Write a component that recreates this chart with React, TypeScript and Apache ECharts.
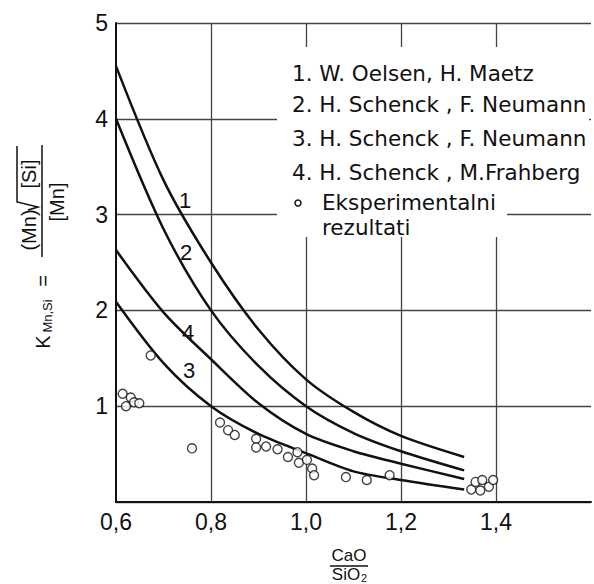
import React, { useEffect, useRef } from "react";
import * as echarts from "echarts";

// x positions (CaO/SiO2) at which the curves were read
const curveX = [0.6, 0.7, 0.8, 0.9, 1.0, 1.1, 1.2, 1.333];
// K_Mn,Si values
const curve1 = [4.55, 3.36, 2.5, 1.8, 1.28, 0.94, 0.69, 0.47]; // W. Oelsen, H. Maetz
const curve2 = [4.0, 2.85, 2.0, 1.42, 1.0, 0.72, 0.53, 0.33]; // H. Schenck, F. Neumann
const curve3 = [2.09, 1.45, 1.0, 0.71, 0.51, 0.32, 0.23, 0.13]; // H. Schenck, F. Neumann
const curve4 = [2.63, 1.98, 1.49, 1.03, 0.71, 0.53, 0.4, 0.24]; // H. Schenck, M. Frahberg

// experimental points [CaO/SiO2, K]
const expPoints: [number, number][] = [
  [0.614, 1.13], [0.621, 1.0], [0.631, 1.09], [0.638, 1.04], [0.649, 1.03],
  [0.673, 1.53], [0.76, 0.56], [0.819, 0.83], [0.836, 0.75], [0.85, 0.7],
  [0.895, 0.66], [0.895, 0.57], [0.916, 0.58], [0.94, 0.55], [0.962, 0.47],
  [0.982, 0.52], [0.985, 0.41], [1.002, 0.44], [1.013, 0.35], [1.017, 0.28],
  [1.084, 0.26], [1.128, 0.23], [1.176, 0.28],
  [1.348, 0.13], [1.357, 0.21], [1.367, 0.12], [1.371, 0.23], [1.385, 0.16], [1.394, 0.23],
];

const legendRows = [
  "1. W. Oelsen, H. Maetz",
  "2. H. Schenck , F. Neumann",
  "3. H. Schenck , F. Neumann",
  "4. H. Schenck , M.Frahberg",
];
const expLabel = ["Eksperimentalni", "rezultati"];
const curveLabels = ["1", "2", "4", "3"];

const pairs = (ys: number[]) => curveX.map((x, i) => [x, ys[i]]);

const INK = "#111";
const LEG_FONT = '21.5px "DejaVu Sans"';
const LBL_FONT = '20px "Liberation Sans"';

export default function App() {
  const ref = useRef<HTMLDivElement>(null);
  useEffect(() => {
    if (!ref.current) return;
    const chart = echarts.init(ref.current, undefined, { renderer: "svg" });
    const lineSeries = (data: number[]) => ({
      type: "line",
      data: pairs(data),
      smooth: 0.3,
      showSymbol: false,
      symbol: "none",
      lineStyle: { color: INK, width: 2.5 },
      z: 3,
    });
    const txt = (text: string, x: number, y: number, font: string, align = "left") => ({
      type: "text",
      x,
      y,
      z: 20,
      style: { text, font, fill: INK, align, verticalAlign: "middle" },
    });
    const legendY = [73, 104, 138, 172];
    chart.setOption({
      animation: false,
      backgroundColor: "#fff",
      grid: { left: 116, right: 0, top: 23, bottom: 82 },
      xAxis: {
        type: "value",
        min: 0.6,
        max: 1.6,
        interval: 0.2,
        axisLine: { show: true, lineStyle: { color: INK, width: 2 } },
        axisTick: { show: false },
        axisLabel: {
          margin: 8,
          color: INK,
          fontSize: 23,
          fontFamily: "Liberation Sans",
          formatter: (v: number) => (v > 1.5 ? "" : v.toFixed(1).replace(".", ",")),
        },
        splitLine: { show: true, showMinLine: false, showMaxLine: false, lineStyle: { color: "#444", width: 1.3 } },
      },
      yAxis: {
        type: "value",
        min: 0,
        max: 5,
        interval: 1,
        axisLine: { show: true, lineStyle: { color: INK, width: 2 } },
        axisTick: { show: false },
        axisLabel: {
          margin: 8,
          color: INK,
          fontSize: 23,
          fontFamily: "Liberation Sans",
          formatter: (v: number) => (v === 0 ? "" : String(v)),
        },
        splitLine: { show: true, lineStyle: { color: "#444", width: 1.3 } },
      },
      series: [
        lineSeries(curve1),
        lineSeries(curve2),
        lineSeries(curve3),
        lineSeries(curve4),
        {
          type: "scatter",
          data: expPoints,
          symbol: "circle",
          symbolSize: 9,
          itemStyle: { color: "#fff", borderColor: INK, borderWidth: 1.4 },
          z: 4,
        },
      ],
      graphic: {
        elements: [
          // legend background boxes (interrupt grid lines)
          { type: "rect", x: 277, y: 47, z: 10, shape: { width: 312, height: 145 }, style: { fill: "#fff" } },
          { type: "rect", x: 277, y: 191, z: 10, shape: { width: 230, height: 46 }, style: { fill: "#fff" } },
          ...legendRows.map((t, i) => txt(t, 292, legendY[i], LEG_FONT)),
          { type: "circle", x: 298, y: 203, z: 20, shape: { r: 3 }, style: { fill: "#fff", stroke: INK, lineWidth: 1.5 } },
          txt(expLabel[0], 322, 202, LEG_FONT),
          txt(expLabel[1], 322, 227, LEG_FONT),
          // curve labels
          txt(curveLabels[0], 185, 200, '22px "Liberation Sans"', "center"),
          txt(curveLabels[1], 186, 252, '22px "Liberation Sans"', "center"),
          txt(curveLabels[2], 188, 332, '22px "Liberation Sans"', "center"),
          txt(curveLabels[3], 189, 370, '22px "Liberation Sans"', "center"),
          // x axis name: CaO / SiO2
          txt("CaO", 349, 555, '17px "Liberation Sans"', "center"),
          { type: "line", z: 20, shape: { x1: 330, y1: 566, x2: 368, y2: 566 }, style: { stroke: INK, lineWidth: 1.5 } },
          txt("SiO", 346, 574, '17px "Liberation Sans"', "center"),
          txt("2", 364, 578, '11px "Liberation Sans"', "center"),
          // y axis name, rotated
          {
            type: "group",
            x: 42,
            y: 250,
            rotation: Math.PI / 2,
            children: [
              { type: "line", shape: { x1: -7, y1: 0, x2: 105, y2: 0 }, style: { stroke: INK, lineWidth: 1.5 } },
              { type: "text", x: 20, y: -13, style: { text: "(Mn)", font: LBL_FONT, fill: INK, align: "center", verticalAlign: "middle" } },
              {
                type: "polyline",
                shape: { points: [[40, -14], [43, -4], [48, -25], [104, -25]] },
                style: { stroke: INK, fill: "none", lineWidth: 1.5 },
              },
              { type: "text", x: 76, y: -13, style: { text: "[Si]", font: LBL_FONT, fill: INK, align: "center", verticalAlign: "middle" } },
              { type: "text", x: 48, y: 15, style: { text: "[Mn]", font: LBL_FONT, fill: INK, align: "center", verticalAlign: "middle" } },
              { type: "text", x: -31, y: 1, style: { text: "=", font: LBL_FONT, fill: INK, align: "center", verticalAlign: "middle" } },
              { type: "text", x: -66, y: 5, style: { text: "Mn,Si", font: '13px "Liberation Sans"', fill: INK, align: "center", verticalAlign: "middle" } },
              { type: "text", x: -92, y: 1, style: { text: "K", font: LBL_FONT, fill: INK, align: "center", verticalAlign: "middle" } },
            ],
          },
        ],
      },
    });
    return () => chart.dispose();
  }, []);
  return <div ref={ref} style={{ position: "fixed", left: 0, top: 0, width: 594, height: 584 }} />;
}
